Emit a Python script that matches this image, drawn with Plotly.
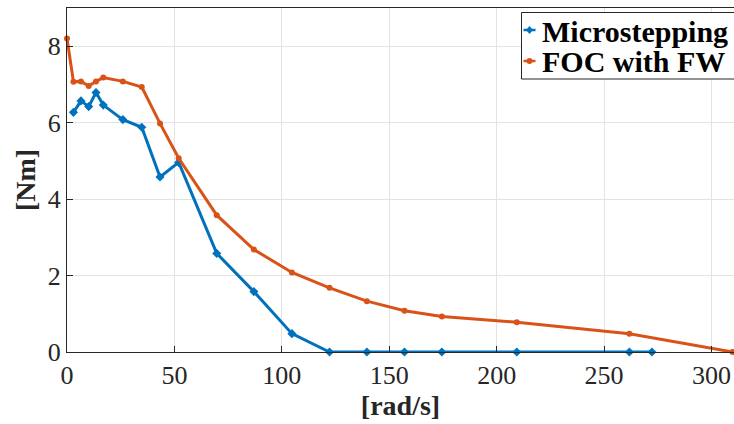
import plotly.graph_objects as go

# Speed [rad/s] and torque [Nm]
speed_micro = [3.0, 6.5, 10.1, 13.5, 16.9, 26.0, 34.8, 43.3, 52.0, 69.7, 87.0, 104.7,
               122.2, 139.6, 157.1, 174.5, 209.4, 261.8, 272.3]
torque_micro = [6.27, 6.57, 6.42, 6.79, 6.46, 6.08, 5.88, 4.58, 4.96, 2.58, 1.58, 0.48,
                0.0, 0.0, 0.0, 0.0, 0.0, 0.0, 0.0]

speed_foc = [0.0, 3.0, 6.5, 10.1, 13.5, 16.9, 26.0, 34.8, 43.3, 52.0, 69.7, 87.0, 104.7,
             122.2, 139.6, 157.1, 174.5, 209.4, 261.8, 309.8]
torque_foc = [8.2, 7.07, 7.08, 6.96, 7.08, 7.18, 7.08, 6.93, 5.98, 5.07, 3.58, 2.68, 2.08,
              1.68, 1.33, 1.08, 0.93, 0.78, 0.48, 0.0]

series_names = ["Microstepping", "FOC with FW"]
x_ticks = [0, 50, 100, 150, 200, 250, 300]
y_ticks = [0, 2, 4, 6, 8]

BLUE = "#0072BD"
ORANGE = "#D95319"
INK = "#262626"
SERIF = "Liberation Serif, Times New Roman, serif"

W, H = 734, 424
ML, MR, MT, MB = 67, 0, 8, 72
PW, PH = W - ML - MR, H - MT - MB


def px(x):  # page pixel -> paper x
    return (x - ML) / PW


def py(y):  # page pixel -> paper y
    return (H - MB - y) / PH


fig = go.Figure()
fig.add_trace(go.Scatter(
    x=speed_micro, y=torque_micro, name=series_names[0], mode="lines+markers",
    line=dict(color=BLUE, width=3), marker=dict(symbol="diamond", size=7, color=BLUE),
    cliponaxis=False, showlegend=False))
fig.add_trace(go.Scatter(
    x=speed_foc, y=torque_foc, name=series_names[1], mode="lines+markers",
    line=dict(color=ORANGE, width=3), marker=dict(symbol="circle", size=6, color=ORANGE),
    cliponaxis=False, showlegend=False))

axis_common = dict(
    showgrid=True, gridcolor="#e3e3e3", gridwidth=1,
    showline=True, linecolor=INK, linewidth=1, mirror=True,
    ticks="inside", ticklen=6, tickcolor=INK,
    zeroline=False, tickfont=dict(family=SERIF, size=26, color=INK),
)

fig.update_xaxes(range=[0, 310.5], tickvals=x_ticks,
                 title=dict(text="<b>[rad/s]</b>", font=dict(family=SERIF, size=28, color=INK),
                            standoff=2),
                 **axis_common)
fig.update_yaxes(range=[0, 9], tickvals=y_ticks,
                 title=dict(text="<b>[Nm]</b>", font=dict(family=SERIF, size=28, color=INK),
                            standoff=3),
                 **axis_common)

# Legend drawn as a boxed key (MATLAB style) in the upper right
shapes = [dict(type="rect", xref="paper", yref="paper",
               x0=px(521.5), x1=px(745), y0=py(79), y1=py(12.5),
               line=dict(color=INK, width=1), fillcolor="white", layer="above")]
annotations = []
rows = [(30, BLUE, "diamond"), (61, ORANGE, "circle")]
for (ry, col, sym), name in zip(rows, series_names):
    shapes.append(dict(type="line", xref="paper", yref="paper",
                       x0=px(523.5), x1=px(535.5), y0=py(ry), y1=py(ry),
                       line=dict(color=col, width=2.5), layer="above"))
    if sym == "circle":
        shapes.append(dict(type="circle", xref="paper", yref="paper",
                           x0=px(526.5), x1=px(532.5), y0=py(ry + 3), y1=py(ry - 3),
                           line=dict(color=col, width=0), fillcolor=col, layer="above"))
    else:
        cx, cy = px(529.5), py(ry)
        dx, dy = 3.5 / PW, 4 / PH
        shapes.append(dict(type="path", xref="paper", yref="paper",
                           path=f"M {cx-dx} {cy} L {cx} {cy+dy} L {cx+dx} {cy} L {cx} {cy-dy} Z",
                           line=dict(color=col, width=0), fillcolor=col, layer="above"))
    annotations.append(dict(xref="paper", yref="paper", x=px(540), y=py(ry + 1),
                            xanchor="left", yanchor="middle", showarrow=False,
                            text=f"<b>{name}</b>",
                            font=dict(family=SERIF, size=30, color="black")))

fig.update_layout(
    width=W, height=H,
    margin=dict(l=ML, r=MR, t=MT, b=MB, autoexpand=False),
    plot_bgcolor="white", paper_bgcolor="white",
    showlegend=False, shapes=shapes, annotations=annotations,
)

fig.write_html("out.html", config={"displayModeBar": False},
               post_script="document.body.style.margin='0px';document.body.style.overflow='hidden';")
